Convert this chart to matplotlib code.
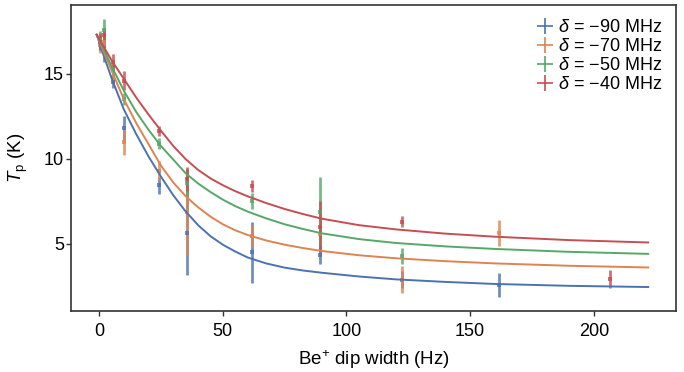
import numpy as np
from matplotlib import pyplot as plt
from matplotlib.lines import Line2D

plt.rcParams['font.family'] = ['Liberation Sans', 'DejaVu Sans']
plt.rcParams['mathtext.fontset'] = 'custom'
plt.rcParams['mathtext.rm'] = 'Liberation Sans'
plt.rcParams['mathtext.it'] = 'Liberation Sans:italic'

colors = ['#4C72B0', '#DD8452', '#55A868', '#C44E52']
labels = ['$\\delta$ = \u221290 MHz', '$\\delta$ = \u221270 MHz',
          '$\\delta$ = \u221250 MHz', '$\\delta$ = \u221240 MHz']

# measured points (dip width in Hz, T_p in K, error)
x_blue = [0.5, 2, 5.7, 10, 24.2, 35.4, 61.6, 89.3, 122.6, 161.6]
y_blue = [16.8, 16.5, 14.5, 11.8, 8.45, 5.65, 4.5, 4.35, 2.9, 2.6]
e_blue = [0.4, 0.8, 0.35, 0.7, 0.5, 2.5, 1.8, 0.55, 0.5, 0.7]

x_orange = [0.5, 2, 5.7, 10, 24.2, 35.4, 61.6, 89.3, 122.6, 161.6]
y_orange = [16.7, 16.9, 14.8, 11.0, 9.3, 6.85, 5.45, 5.55, 2.9, 5.65]
e_orange = [0.5, 0.5, 0.3, 0.75, 0.55, 2.55, 0.65, 0.25, 0.8, 0.75]

x_green = [0.5, 2, 5.7, 10, 24.2, 35.4, 61.6, 89.3, 122.6]
y_green = [17.0, 17.6, 15.3, 13.5, 10.9, 8.6, 7.5, 6.85, 4.3]
e_green = [0.5, 0.6, 0.3, 0.35, 0.3, 0.8, 0.47, 2.07, 0.48]

x_red = [0.5, 2, 5.7, 10, 24.2, 35.4, 61.6, 89.3, 122.6, 206.6]
y_red = [16.9, 17.3, 15.7, 14.6, 11.65, 8.8, 8.4, 6.0, 6.3, 2.95]
e_red = [0.5, 0.4, 0.45, 0.55, 0.3, 0.7, 0.37, 1.5, 0.32, 0.53]

# fit curves
x_fit = [-1, 2, 5, 10, 15, 20, 25, 30, 35, 40, 45, 50, 55, 60, 67.5, 75, 82.5, 90,
         105, 120, 140, 160, 190, 222]
fit_blue = [17.3, 16.0, 14.75, 12.9, 11.45, 10.13, 8.95, 7.85, 6.9, 6.1, 5.45, 4.95,
            4.55, 4.2, 3.85, 3.6, 3.43, 3.3, 3.08, 2.91, 2.76, 2.64, 2.53, 2.46]
fit_orange = [17.3, 16.25, 15.2, 13.5, 12.1, 10.85, 9.6, 8.6, 7.8, 7.15, 6.6, 6.15,
              5.8, 5.52, 5.2, 4.95, 4.75, 4.58, 4.33, 4.15, 3.98, 3.85, 3.71, 3.61]
fit_green = [17.3, 16.4, 15.45, 14.0, 12.75, 11.7, 10.75, 9.95, 9.15, 8.55, 8.05, 7.6,
             7.22, 6.9, 6.5, 6.15, 5.87, 5.62, 5.28, 5.05, 4.85, 4.7, 4.53, 4.41]
fit_red = [17.3, 16.55, 15.8, 14.7, 13.6, 12.6, 11.65, 10.75, 9.98, 9.35, 8.85, 8.45,
           8.1, 7.8, 7.4, 7.05, 6.75, 6.48, 6.1, 5.85, 5.6, 5.42, 5.22, 5.08]

series = [(x_blue, y_blue, e_blue, fit_blue),
          (x_orange, y_orange, e_orange, fit_orange),
          (x_green, y_green, e_green, fit_green),
          (x_red, y_red, e_red, fit_red)]

fig = plt.figure(figsize=(6.84, 3.72), dpi=100)
ax = fig.add_axes([0.1045, 0.164, 0.884, 0.8226])

for (xs, ys, es, fit), c in zip(series, colors):
    ax.errorbar(xs, ys, yerr=es, fmt='s', ms=2.4, mew=0, color=c, ecolor=c,
                elinewidth=2, capsize=0, alpha=0.8, zorder=2)
    ax.plot(x_fit, fit, color=c, lw=1.4, zorder=3)

handles = [Line2D([], [], marker='+', ls='none', ms=11, mew=1.2, color=c) for c in colors]
ax.legend(handles, labels, loc='upper right', frameon=False, fontsize=13,
          handletextpad=0.1, labelspacing=0.1, borderaxespad=0.5,
          handlelength=1.2, borderpad=0.3)

ax.set_xlim(-11.2, 233.3)
ax.set_ylim(1.05, 19.05)
ax.set_xticks([0, 50, 100, 150, 200])
ax.set_yticks([5, 10, 15])
ax.tick_params(labelsize=13, length=3.5, width=1, color='#333333')
ax.tick_params(axis='x', pad=5)
ax.tick_params(axis='y', pad=2)
for s in ax.spines.values():
    s.set_color('#333333')
    s.set_linewidth(1.2)
ax.set_xlabel('Be$^{+}$ dip width (Hz)', fontsize=13.5, labelpad=6)
ax.set_ylabel('$T_{\\rm p}$ (K)', fontsize=13.5)
ax.yaxis.set_label_coords(-0.068, 0.5)

fig.savefig('out.png', dpi=100)
